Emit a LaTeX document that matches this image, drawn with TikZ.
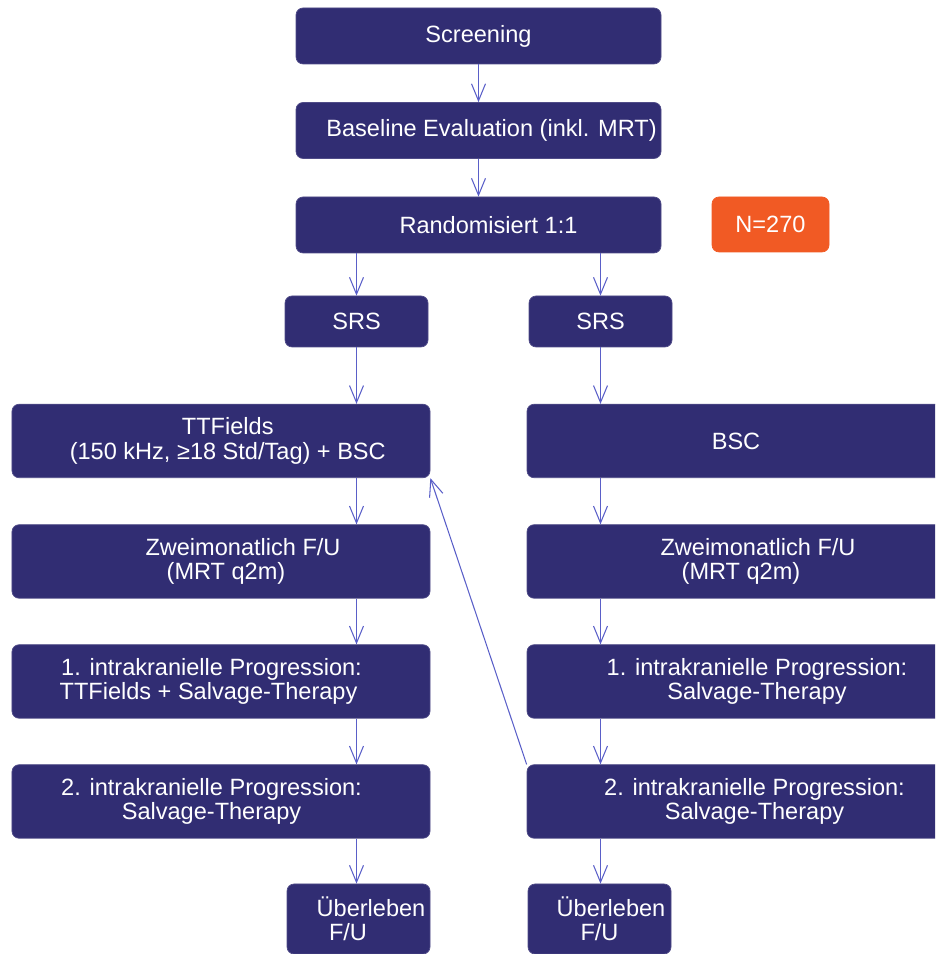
\documentclass[tikz,border=0pt]{standalone}
\usepackage{fontspec}
\setmainfont{Liberation Sans}
\usetikzlibrary{arrows.meta}

\definecolor{boxblue}{RGB}{49,45,115}
\definecolor{lineblue}{RGB}{90,95,200}
\definecolor{boxorange}{RGB}{241,90,36}

\begin{document}
\begin{tikzpicture}[
        every node/.style={font=\fontsize{13.4}{13.8}\selectfont, text=white},
        arrow/.style={-{Straight Barb[length=3.4mm,width=2.8mm]}, line width=0.6pt, draw=lineblue},
        flowbox/.style={draw=boxblue!85!white, fill=boxblue, rounded corners=4pt, align=center, inner sep=1pt},
        topbox/.style={flowbox, minimum width=7.3cm, minimum height=1.12cm},
        widebox/.style={flowbox, minimum width=8.36cm, minimum height=1.47cm},
        smallbox/.style={flowbox, minimum width=2.86cm, minimum height=1.02cm}
    ]

        \def\LeftX{4.42}
        \def\RightX{14.72}

        \useasboundingbox (0,0) rectangle (18.7,19.08);
        \clip (0,0) rectangle (18.7,19.08);

        % -------------------------------------------------
        % 1. Screening und Randomisierung
        % -------------------------------------------------
        \node[topbox] (screen) at (9.57,18.36) {Screening};
        \node[topbox] (base) at (9.57,16.47) {\hspace*{0.52cm}Baseline Evaluation (inkl. MRT)};
        \node[topbox] (rand) at (9.57,14.58) {\hspace*{0.4cm}Randomisiert 1:1};
        \node[flowbox, fill=boxorange, draw=boxorange, minimum width=2.34cm, minimum height=1.1cm] (count) at (15.41,14.59) {N=270};

        \draw[arrow] (screen) -- (base);
        \draw[arrow] (base) -- (rand);

        % -------------------------------------------------
        % 2. SRS
        % -------------------------------------------------
        \node[smallbox] (srsL) at (7.13,12.65) {SRS};
        \node[smallbox] (srsR) at (12.01,12.65) {SRS};

        \draw[arrow] (rand.south -| srsL) -- (srsL);
        \draw[arrow] (rand.south -| srsR) -- (srsR);

        % -------------------------------------------------
        % 3. Therapiearme
        % -------------------------------------------------
        \node[widebox] (ttf) at (\LeftX,10.26) {\hspace*{0.27cm}TTFields\\\hspace*{0.27cm}(150 kHz, ≥18 Std/Tag) + BSC};
        \node[widebox] (bsc) at (\RightX,10.26) {BSC};

        \node[widebox] (zweiL) at (\LeftX,7.85) {\hspace*{0.88cm}Zweimonatlich F/U\\\hspace*{0.2cm}(MRT q2m)};
        \node[widebox] (zweiR) at (\RightX,7.85) {\hspace*{0.88cm}Zweimonatlich F/U\\\hspace*{0.2cm}(MRT q2m)};

        \node[widebox] (intaL) at (\LeftX,5.45) {1. intrakranielle Progression:\hspace*{0.38cm}\\TTFields + Salvage-Therapy\hspace*{0.5cm}};
        \node[widebox] (intaR) at (\RightX,5.45) {\hspace*{0.84cm}1. intrakranielle Progression:\\\hspace*{0.84cm}Salvage-Therapy};

        \node[widebox] (intbL) at (\LeftX,3.05) {2. intrakranielle Progression:\hspace*{0.38cm}\\Salvage-Therapy\hspace*{0.38cm}};
        \node[widebox] (intbR) at (\RightX,3.05) {\hspace*{0.74cm}2. intrakranielle Progression:\\\hspace*{0.74cm}Salvage-Therapy};

        % -------------------------------------------------
        % 4. Ueberleben
        % -------------------------------------------------
        \node[smallbox, minimum height=1.4cm] (ueL) at (7.17,0.7) {\hspace*{0.5cm}Überleben\\F/U\hspace*{0.42cm}};
        \node[smallbox, minimum height=1.4cm] (ueR) at (11.99,0.7) {\hspace*{0.46cm}Überleben\\F/U};

        % Pfeile links
        \draw[arrow] (srsL) -- (srsL |- ttf.north);
        \draw[arrow] (ttf.south -| srsL) -- (zweiL.north -| srsL);
        \draw[arrow] (zweiL.south -| srsL) -- (intaL.north -| srsL);
        \draw[arrow] (intaL.south -| srsL) -- (intbL.north -| srsL);
        \draw[arrow] (intbL.south -| srsL) -- (ueL.north -| srsL);

        % Pfeile rechts
        \draw[arrow] (srsR) -- (srsR |- bsc.north);
        \draw[arrow] (bsc.south -| srsR) -- (zweiR.north -| srsR);
        \draw[arrow] (zweiR.south -| srsR) -- (intaR.north -| srsR);
        \draw[arrow] (intaR.south -| srsR) -- (intbR.north -| srsR);
        \draw[arrow] (intbR.south -| srsR) -- (ueR.north -| srsR);

        % Crossover
        \draw[arrow] (intbR.north west) -- (ttf.south east);

    \end{tikzpicture}
\end{document}
